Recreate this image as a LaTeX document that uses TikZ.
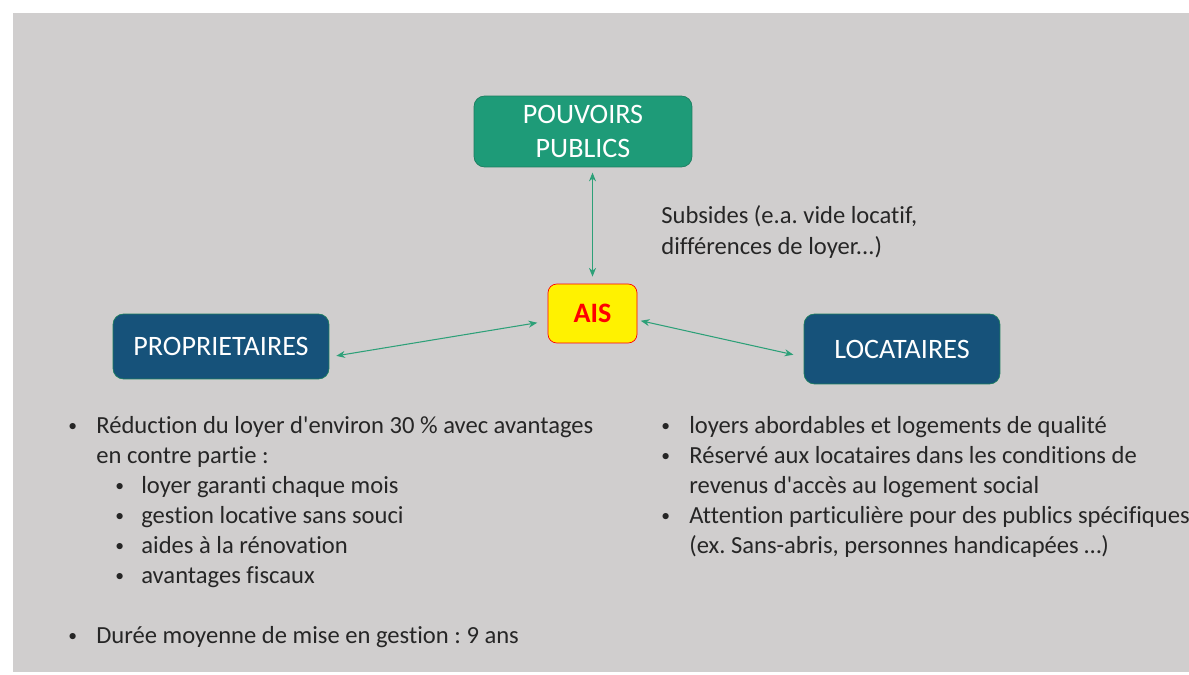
\documentclass[tikz,border=0pt]{standalone}
\usepackage{fontspec}
\setmainfont[Ligatures=NoCommon]{Carlito}
\usetikzlibrary{arrows.meta}
\definecolor{bggray}{RGB}{208,206,206}
\definecolor{pubgreen}{RGB}{30,155,120}
\definecolor{ownblue}{RGB}{22,82,122}
\definecolor{edgegreen}{RGB}{28,125,95}
\definecolor{linkgreen}{RGB}{45,160,120}
\definecolor{textgray}{RGB}{38,38,38}
\newcommand{\itemdot}{{\fontsize{10}{12}\selectfont\raisebox{1pt}{\textbullet}}}
\frenchspacing

\begin{document}
\begin{tikzpicture}[x=0.02cm, y=-0.02cm,
    actor/.style={rectangle, rounded corners=6pt, draw=edgegreen, fill=ownblue, text=white, font=\fontsize{16}{19.5}\selectfont, align=center},
    link/.style={{Stealth[length=5pt,width=4pt]}-{Stealth[length=5pt,width=4pt]}, linkgreen, semithick},
    line/.style={anchor=base west, inner sep=0pt, text=textgray, font=\fontsize{14}{17}\selectfont}]
        \useasboundingbox (0,0) rectangle (1189,675);
        \fill[bggray] (13,13) rectangle (1189,672);

        % Actors
        \node[actor, fill=pubgreen, minimum width=4.36cm, minimum height=1.42cm] (pub) at (583,131.5) {POUVOIRS\\PUBLICS};
        \node[actor, minimum width=4.32cm, minimum height=1.3cm] (own) at (221,346.5) {PROPRIETAIRES};
        \node[actor, minimum width=3.92cm, minimum height=1.4cm] (loc) at (902,349) {LOCATAIRES};
        \node[rectangle, rounded corners=5pt, draw=red, fill=yellow, text=red, minimum width=1.78cm, minimum height=1.18cm, font=\fontsize{16}{19}\selectfont\bfseries] (ais) at (592.5,313.5) {AIS};

        % Arrows
        \draw[link, shorten <=3pt, shorten >=4pt] (pub.south -| ais.north) -- (ais.north);
        \draw[link, shorten <=4pt, shorten >=6pt] ([yshift=-0.21cm]own.east) -- ([yshift=-0.15cm]ais.west);
        \draw[link, shorten <=2pt, shorten >=6pt] ([yshift=-0.13cm]ais.east) -- ([yshift=-0.16cm]loc.west);

        % Subsides
        \node[line] (sub1) at (661,224) {Subsides (e.a. vide locatif,};
        \node[line] (sub2) at (661,255) {différences de loyer...)};

        % Owners
        \node[line] (ob1) at (68,433) {\itemdot};
        \node[line] (o1) at (96,433) {Réduction du loyer d\textquotesingle environ 30 \% avec avantages};
        \node[line] (o2) at (96,463) {en contre partie :};
        \node[line] (ob3) at (115,493) {\itemdot};
        \node[line] (o3) at (141,493) {loyer garanti chaque mois};
        \node[line] (ob4) at (115,523) {\itemdot};
        \node[line] (o4) at (141,523) {gestion locative sans souci};
        \node[line] (ob5) at (115,553) {\itemdot};
        \node[line] (o5) at (141,553) {aides à la rénovation};
        \node[line] (ob6) at (115,583) {\itemdot};
        \node[line] (o6) at (141,583) {avantages fiscaux};
        \node[line] (ob7) at (68,643) {\itemdot};
        \node[line] (o7) at (96,643) {Durée moyenne de mise en gestion : 9 ans};

        % Tenants
        \node[line] (lb1) at (661,433) {\itemdot};
        \node[line] (l1) at (689,433) {loyers abordables et logements de qualité};
        \node[line] (lb2) at (661,463) {\itemdot};
        \node[line] (l2) at (689,463) {Réservé aux locataires dans les conditions de};
        \node[line] (l3) at (689,493) {revenus d\textquotesingle accès au logement social};
        \node[line] (lb4) at (661,523) {\itemdot};
        \node[line] (l4) at (689,523) {Attention particulière pour des publics spécifiques};
        \node[line] (l5) at (689,553) {(ex. Sans-abris, personnes handicapées …)};
    \end{tikzpicture}
\end{document}
